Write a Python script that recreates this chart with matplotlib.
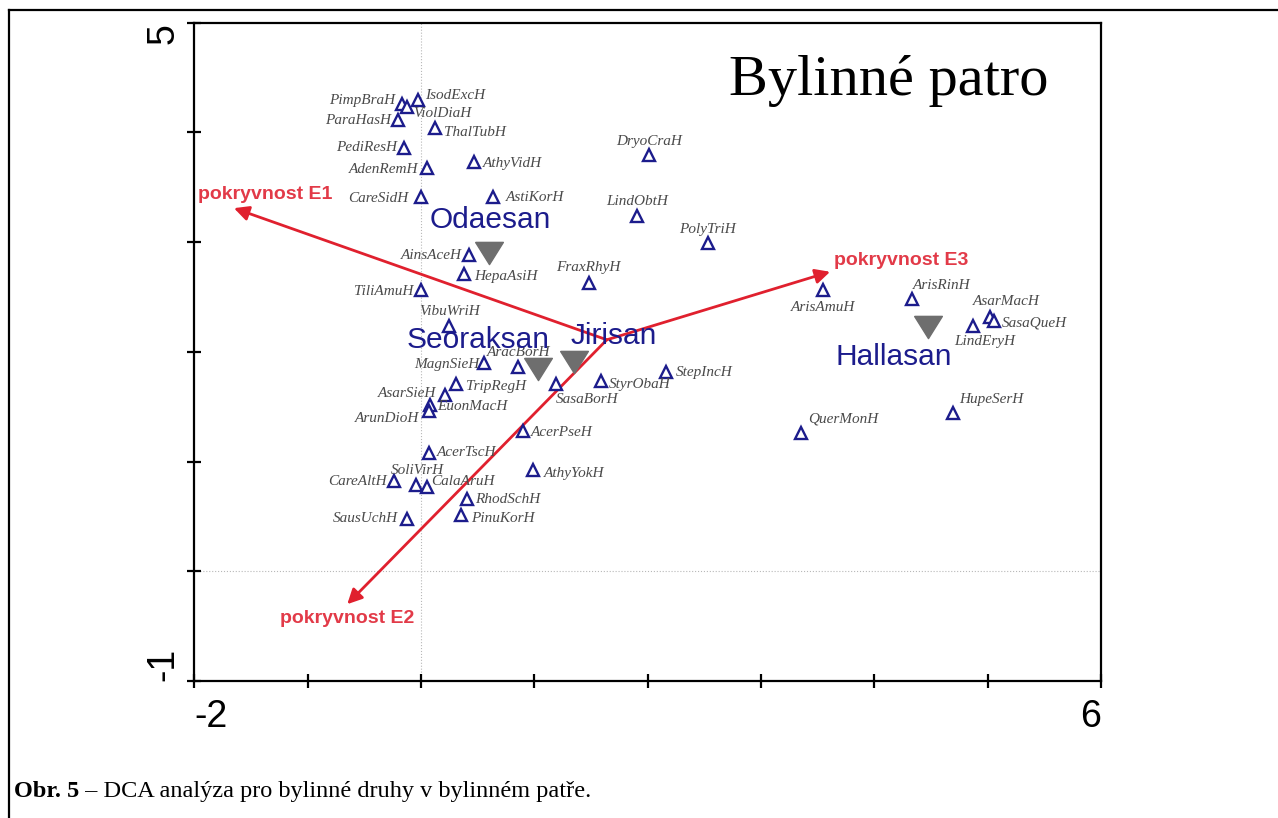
import matplotlib
matplotlib.use("Agg")
import matplotlib.pyplot as plt
from matplotlib.path import Path
from matplotlib.lines import Line2D

# skore druhu (DCA osa 1, osa 2)
species = ["PimpBraH", "IsodExcH", "ViolDiaH", "ParaHasH", "ThalTubH", "PediResH",
           "AthyVidH", "AdenRemH", "CareSidH", "AstiKorH", "DryoCraH", "LindObtH",
           "PolyTriH", "AinsAceH", "HepaAsiH", "FraxRhyH", "TiliAmuH", "ArisAmuH",
           "ArisRinH", "AsarMacH", "SasaQueH", "LindEryH", "VibuWriH", "MagnSieH",
           "AracBorH", "SasaBorH", "StyrObaH", "StepIncH", "TripRegH", "AsarSieH",
           "EuonMacH", "ArunDioH", "HupeSerH", "QuerMonH", "AcerPseH", "AcerTscH",
           "AthyYokH", "CareAltH", "SoliVirH", "CalaAruH", "RhodSchH", "PinuKorH",
           "SausUchH"]
sp_x = [-0.17, -0.03, -0.12, -0.20, 0.12, -0.15,
        0.47, 0.05, 0.00, 0.64, 2.01, 1.91,
        2.53, 0.42, 0.38, 1.48, 0.00, 3.55,
        4.33, 5.02, 5.06, 4.87, 0.25, 0.56,
        0.86, 1.19, 1.59, 2.16, 0.31, 0.21,
        0.08, 0.07, 4.69, 3.35, 0.90, 0.07,
        0.99, -0.24, -0.04, 0.05, 0.41, 0.35,
        -0.12]
sp_y = [4.26, 4.30, 4.23, 4.11, 4.04, 3.86,
        3.73, 3.68, 3.41, 3.41, 3.79, 3.24,
        2.99, 2.88, 2.71, 2.63, 2.56, 2.56,
        2.48, 2.32, 2.28, 2.24, 2.24, 1.90,
        1.86, 1.71, 1.73, 1.82, 1.71, 1.61,
        1.52, 1.46, 1.44, 1.26, 1.28, 1.08,
        0.92, 0.82, 0.79, 0.77, 0.66, 0.51,
        0.48]

# lokality (centroidy)
sites = ["Odaesan", "Seoraksan", "Jirisan", "Hallasan"]
site_x = [0.60, 1.03, 1.35, 4.47]
site_y = [2.90, 1.84, 1.91, 2.23]

# environmentalni promenne (sipky)
env = ["pokryvnost E1", "pokryvnost E2", "pokryvnost E3"]
env_x0 = 1.64
env_y0 = 2.11
env_x = [-1.65, -0.65, 3.61]
env_y = [3.31, -0.30, 2.73]

# umisteni popisku (posun v pixelech, zarovnani)
sp_off = {
    "PimpBraH": (-6, 3, "right"), "IsodExcH": (8, 4, "left"), "ViolDiaH": (6, -6, "left"),
    "ParaHasH": (-7, 0, "right"), "ThalTubH": (9, -4, "left"), "PediResH": (-7, 0, "right"),
    "AthyVidH": (9, -1, "left"), "AdenRemH": (-8, -2, "right"), "CareSidH": (-13, -1, "right"),
    "AstiKorH": (12, 0, "left"), "DryoCraH": (0, 14, "center"), "LindObtH": (0, 14, "center"),
    "PolyTriH": (0, 14, "center"), "AinsAceH": (-7, 0, "right"), "HepaAsiH": (10, -3, "left"),
    "FraxRhyH": (0, 15, "center"), "TiliAmuH": (-8, -1, "right"), "ArisAmuH": (0, -17, "center"),
    "ArisRinH": (30, 14, "center"), "AsarMacH": (16, 15, "center"), "SasaQueH": (7, -2, "left"),
    "LindEryH": (12, -16, "center"), "VibuWriH": (0, 14, "center"), "MagnSieH": (-5, -2, "right"),
    "AracBorH": (0, 15, "center"), "SasaBorH": (31, -16, "center"), "StyrObaH": (8, -3, "left"),
    "StepIncH": (10, -1, "left"), "TripRegH": (10, -3, "left"), "AsarSieH": (-9, 1, "right"),
    "EuonMacH": (7, -2, "left"), "ArunDioH": (-10, -7, "right"), "HupeSerH": (39, 14, "center"),
    "QuerMonH": (43, 14, "center"), "AcerPseH": (8, -2, "left"), "AcerTscH": (8, 0, "left"),
    "AthyYokH": (11, -3, "left"), "CareAltH": (-7, 0, "right"), "SoliVirH": (1, 14, "center"),
    "CalaAruH": (5, 5, "left"), "RhodSchH": (8, -1, "left"), "PinuKorH": (10, -3, "left"),
    "SausUchH": (-9, 0, "right"),
}
site_off = [(1, 25), (-60, 21), (40, 18), (-34, -38)]
env_off = [(31, 14), (0, -14), (71, 11)]

navy = "#1c1c8c"
red = "#e0202e"

fig = plt.figure(figsize=(12.78, 8.18), dpi=100)
ax = fig.add_axes([0.152, 0.1675, 0.7095, 0.8047])

ax.set_xlim(-2, 6)
ax.set_ylim(-1, 5)

# nulove osy
ax.axvline(0, color="#b8b8b8", lw=0.8, ls=":", zorder=0)
ax.axhline(0, color="#b8b8b8", lw=0.8, ls=":", zorder=0)

# sipky
for i, name in enumerate(env):
    ax.annotate("", xy=(env_x[i], env_y[i]), xytext=(env_x0, env_y0),
                arrowprops=dict(arrowstyle="-|>", color=red, lw=2,
                                mutation_scale=22, shrinkA=0, shrinkB=0), zorder=3)
    ax.annotate(name, xy=(env_x[i], env_y[i]), xytext=env_off[i],
                textcoords="offset pixels", ha="center", va="center",
                color="#e23a48", fontsize=14, fontweight="bold",
                family="Liberation Sans", zorder=4)

# druhy
ax.plot(sp_x, sp_y, ls="none", marker="^", ms=8, mew=1.7,
        mec=navy, mfc="white", zorder=5)
for i, name in enumerate(species):
    dx, dy, ha = sp_off[name]
    ax.annotate(name, xy=(sp_x[i], sp_y[i]), xytext=(dx, dy),
                textcoords="offset pixels", ha=ha, va="center",
                color="#4a4a4a", fontsize=11, style="italic",
                family="Liberation Serif", zorder=6)

# lokality
site_marker = Path([(-1, 0.8), (1, 0.8), (0, -0.8), (-1, 0.8)])
ax.plot(site_x, site_y, ls="none", marker=site_marker, ms=20,
        mfc="#6e6e6e", mec="#6e6e6e", zorder=4)
for i, name in enumerate(sites):
    ax.annotate(name, xy=(site_x[i], site_y[i]), xytext=site_off[i],
                textcoords="offset pixels", ha="center", va="baseline",
                color=navy, fontsize=21.5, family="Liberation Sans", zorder=6)

ax.text(0.766, 0.89, "Bylinné patro", transform=ax.transAxes,
        ha="center", va="baseline", fontsize=42, family="Liberation Serif")

# osy a popisky
for sp in ax.spines.values():
    sp.set_linewidth(1.6)
ax.set_xticks(range(-2, 7))
ax.set_yticks(range(-1, 6))
ax.set_xticklabels(["-2", "", "", "", "", "", "", "", "6"])
ax.set_yticklabels(["-1", "", "", "", "", "", "5"], rotation=90)
ax.tick_params(direction="inout", length=10, width=1.6, labelsize=27,
               top=False, right=False)
ax.tick_params(axis="x", pad=8)
ax.tick_params(axis="y", pad=4)
for lab in ax.get_xticklabels() + ax.get_yticklabels():
    lab.set_family("Liberation Sans")
xl = ax.get_xticklabels()
xl[0].set_ha("left")
xl[-1].set_ha("right")
yl = ax.get_yticklabels()
yl[0].set_va("bottom")
yl[-1].set_va("top")

# ramecek kolem obrazku
fig.add_artist(Line2D([9 / 1278, 9 / 1278], [0, 1 - 10 / 818], color="black", lw=1.6))
fig.add_artist(Line2D([9 / 1278, 1], [1 - 10 / 818, 1 - 10 / 818], color="black", lw=1.6))

# titulek obrazku
t1 = fig.text(14 / 1278, 1 - 797 / 818, "Obr. 5", fontsize=17.5, fontweight="bold",
              family="Liberation Serif", va="baseline")
t2 = fig.text(0, 0, " – DCA analýza pro bylinné druhy v bylinném patře.", fontsize=17.5,
              family="Liberation Serif", va="baseline")
fig.canvas.draw()
bb = t1.get_window_extent()
t2.set_position((bb.x1 / 1278, 1 - 797 / 818))

fig.savefig("out.png", dpi=100)
